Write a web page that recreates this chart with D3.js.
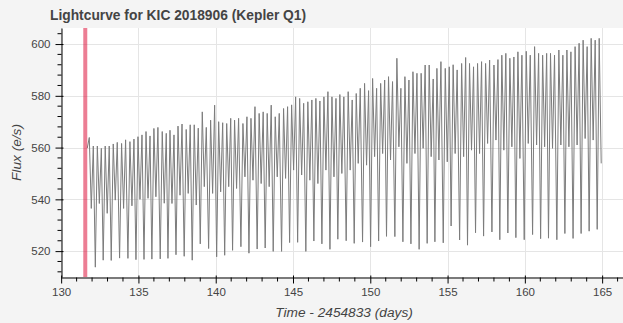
<!DOCTYPE html>
<html><head><meta charset="utf-8">
<script src="https://cdn.jsdelivr.net/npm/d3@7"></script>
<style>
html,body{margin:0;padding:0;background:#f3f3f3;}
svg{display:block;font-family:"Liberation Sans",Arial,Helvetica,sans-serif;}
</style></head><body>
<svg id="chart" width="623" height="323"></svg>
<script>
const title = "Lightcurve for KIC 2018906 (Kepler Q1)";
const xLabel = "Time - 2454833 (days)";
const yLabel = "Flux (e/s)";
const xTicks = [130,135,140,145,150,155,160,165];
const yTicks = [520,540,560,580,600];
const xMinorTicks = [131,132,133,134,136,137,138,139,141,142,143,144,146,147,148,149,151,152,153,154,156,157,158,159,161,162,163,164,166];
const yMinorTicks = [512,516,524,528,532,536,544,548,552,556,564,568,572,576,584,588,592,596,604];
const xDomain = [129.99, 166.35];
const yDomain = [510, 606.2];
const markerTime = 131.56;

// one entry per pulsation cycle: time of the deep minimum and the four extrema read per cycle
const cycleTime = [131.69,132.21,132.72,133.24,133.78,134.32,134.84,135.36,135.87,136.41,
  136.91,137.43,137.96,138.48,139.00,139.54,140.06,140.58,141.09,141.63,
  142.15,142.68,143.20,143.72,144.26,144.78,145.30,145.83,146.35,146.87,
  147.39,147.90,148.44,148.96,149.50,150.02,150.54,151.05,151.59,152.11,
  152.63,153.16,153.68,154.18,154.72,155.23,155.78,156.29,156.81,157.33,
  157.87,158.38,158.90,159.42,159.96,160.50,161.02,161.53,162.07,162.59,
  163.12,163.64,164.16,164.68];
const deepMin = [559.8,513.8,516.5,516.4,517.3,517.2,516.7,516.8,516.9,517.0,
  517.2,518.6,518.0,516.5,522.8,521.0,517.8,518.4,520.3,521.7,
  519.2,520.8,521.2,519.9,519.9,523.3,523.4,519.9,523.9,522.8,
  520.7,524.6,524.0,523.0,523.5,521.7,523.9,525.7,525.6,523.6,
  522.8,520.7,523.0,523.6,523.2,529.7,524.3,522.3,527.1,525.8,
  527.4,524.4,527.0,525.2,524.4,526.4,524.8,525.0,524.4,526.8,
  524.9,526.8,527.7,528.4];
const peakA = [563.9,560.6,560.6,561.4,561.6,562.3,564.2,566.2,567.4,566.2,
  566.7,568.3,567.0,568.8,573.8,570.6,570.0,569.3,570.6,569.3,
  571.3,573.2,573.2,571.9,575.1,576.5,579.0,577.7,579.0,579.6,
  579.6,580.5,581.6,580.9,584.8,586.7,584.8,587.4,594.5,587.4,
  589.3,588.7,591.9,590.6,590.6,592.0,592.5,592.5,592.5,592.5,
  591.9,595.7,594.5,597.0,597.2,599.0,595.7,596.4,597.7,597.7,
  599.0,601.5,602.2,602.2];
const shallowMin = [536.5,538.4,534.6,539.7,536.5,537.5,540.0,540.4,541.0,538.5,
  538.4,541.6,542.3,537.8,544.9,542.3,542.9,544.9,544.2,548.7,
  547.4,546.1,544.9,548.7,548.1,551.3,549.4,547.4,546.1,551.3,
  548.7,550.0,551.3,553.9,553.2,556.5,557.7,555.2,560.3,553.9,
  557.7,559.7,556.5,555.2,554.5,557.7,556.5,559.0,557.7,561.6,
  562.9,559.0,560.3,555.8,561.6,561.0,560.3,559.7,561.0,560.3,
  561.0,563.5,562.9,553.9];
const peakB = [560.6,559.7,560.6,562.0,563.0,563.3,564.9,564.5,567.8,565.5,
  564.9,569.1,568.8,567.5,567.8,576.4,569.6,571.3,571.3,571.9,
  575.8,573.8,576.4,573.2,575.8,579.6,577.1,578.4,578.0,581.6,
  579.0,579.6,578.4,582.9,582.0,582.9,586.1,585.5,582.9,586.1,
  588.7,591.9,586.5,593.2,591.2,590.0,594.8,591.2,593.2,593.8,
  594.0,596.4,595.0,595.7,595.7,596.4,596.4,595.7,595.7,597.0,
  600.3,599.0,601.5,null];
const extremaPhase = [0, 0.13, 0.26, 0.39];

const W = 623, H = 323;
const frame = {left: 61, top: 28, right: 623, bottom: 277};
const svg = d3.select("#chart");
const x = d3.scaleLinear().domain(xDomain).range([frame.left, frame.right]);
const y = d3.scaleLinear().domain(yDomain).range([frame.bottom, frame.top]);

svg.append("rect").attr("x",0).attr("y",0).attr("width",W).attr("height",H).attr("fill","#f4f4f4");
svg.append("rect").attr("x",frame.left).attr("y",frame.top)
  .attr("width",frame.right-frame.left).attr("height",frame.bottom-frame.top).attr("fill","#ffffff");

svg.append("defs").append("clipPath").attr("id","clip").append("rect")
  .attr("x",frame.left).attr("y",frame.top).attr("width",frame.right-frame.left).attr("height",frame.bottom-frame.top);

// grid
const grid = svg.append("g").attr("stroke","#e5e5e5").attr("stroke-width",1);
grid.selectAll(".gx").data(xTicks).join("line")
  .attr("x1",d=>Math.round(x(d))+0.5).attr("x2",d=>Math.round(x(d))+0.5)
  .attr("y1",frame.top).attr("y2",frame.bottom);
grid.selectAll(".gy").data(yTicks).join("line")
  .attr("y1",d=>Math.round(y(d))+0.5).attr("y2",d=>Math.round(y(d))+0.5)
  .attr("x1",frame.left).attr("x2",frame.right);

// data
const pts = [];
cycleTime.forEach((t,i)=>{
  const vals = [deepMin[i], peakA[i], shallowMin[i], peakB[i]];
  vals.forEach((v,j)=>{ if (v !== null) pts.push([t + extremaPhase[j], v]); });
});
const line = d3.line().x(d=>x(d[0])).y(d=>y(d[1]));
const plot = svg.append("g").attr("clip-path","url(#clip)");
plot.append("path").datum(pts).attr("d",line)
  .attr("fill","none").attr("stroke","#7c7c7c").attr("stroke-width",1);

// marker band
plot.append("line").attr("x1",x(markerTime)).attr("x2",x(markerTime))
  .attr("y1",frame.top).attr("y2",frame.bottom)
  .attr("stroke","crimson").attr("stroke-opacity",0.55).attr("stroke-width",4);

// axes
const xAxis = svg.append("g").attr("transform",`translate(0,${frame.bottom+0.5})`)
  .call(d3.axisBottom(x).tickValues(xTicks).tickSizeInner(6).tickSizeOuter(0).tickPadding(4).tickFormat(d3.format("d")));
xAxis.select(".domain").attr("stroke","#000");
xAxis.selectAll(".tick line").attr("y1",-2).attr("stroke","#000");
xAxis.selectAll(".tick text").attr("font-size","11.5px").attr("fill","#444")
  .attr("font-family","'Liberation Sans',Arial,sans-serif");
xAxis.selectAll(".minor").data(xMinorTicks).join("line").attr("class","minor")
  .attr("x1",d=>x(d)).attr("x2",d=>x(d)).attr("y1",0).attr("y2",4).attr("stroke","#000");

const yAxis = svg.append("g").attr("transform",`translate(${frame.left+0.5},0)`)
  .call(d3.axisLeft(y).tickValues(yTicks).tickSizeInner(6).tickSizeOuter(0).tickPadding(5).tickFormat(d3.format("d")));
yAxis.select(".domain").attr("stroke","#000");
yAxis.selectAll(".tick line").attr("x1",2).attr("stroke","#000");
yAxis.selectAll(".tick text").attr("font-size","11.5px").attr("fill","#444")
  .attr("font-family","'Liberation Sans',Arial,sans-serif");
yAxis.selectAll(".minor").data(yMinorTicks).join("line").attr("class","minor")
  .attr("y1",d=>y(d)).attr("y2",d=>y(d)).attr("x1",0).attr("x2",-4).attr("stroke","#000");

// texts
svg.append("text").attr("x",50).attr("y",20).text(title)
  .attr("font-weight","bold").attr("font-size","13.8px").attr("fill","#444");
svg.append("text").attr("x",344).attr("y",316.5).attr("text-anchor","middle")
  .attr("font-style","italic").attr("font-size","13.7px").attr("fill","#444").text(xLabel);
svg.append("text").attr("transform",`translate(21,${(frame.top+frame.bottom)/2}) rotate(-90)`)
  .attr("text-anchor","middle").attr("font-style","italic").attr("font-size","13.7px").attr("fill","#444").text(yLabel);
</script>
</body></html>
